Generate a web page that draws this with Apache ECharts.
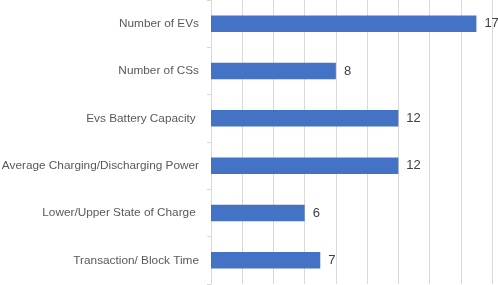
<!DOCTYPE html>
<html>
<head>
<meta charset="utf-8">
<script src="https://cdn.jsdelivr.net/npm/echarts@6/dist/echarts.min.js"></script>
<style>
  html, body { margin: 0; padding: 0; background: #fff; }
  #chart { width: 498px; height: 285px; }
</style>
</head>
<body>
<div id="chart"></div>
<script>
// categories listed bottom to top (category axis runs upward)
const categories = [
  'Transaction/ Block Time',
  'Lower/Upper State of Charge ',
  'Average Charging/Discharging Power',
  'Evs Battery Capacity ',
  'Number of CSs',
  'Number of EVs'
];
const values = [7, 6, 12, 12, 8, 17];

const chart = echarts.init(document.getElementById('chart'));

const option = {
  animation: false,
  grid: {
    left: 211, right: 6, top: 0, bottom: 1,
    containLabel: false,
    outerBoundsMode: 'none'
  },
  xAxis: {
    type: 'value',
    min: 0,
    max: 18,
    interval: 2,
    axisLabel: { show: false },
    axisLine: { show: false },
    axisTick: { show: false },
    splitLine: { lineStyle: { color: '#d9d9d9', width: 1 } }
  },
  yAxis: {
    type: 'category',
    data: categories,
    axisLine: { lineStyle: { color: '#d9d9d9' } },
    axisTick: { show: true, length: 4, lineStyle: { color: '#d9d9d9' } },
    axisLabel: {
      color: '#595959',
      fontFamily: 'Liberation Sans',
      fontSize: 11.8,
      margin: 12
    }
  },
  series: [
    {
      type: 'bar',
      data: values,
      barWidth: 16.5,
      itemStyle: { color: '#4472c4' },
      label: {
        show: true,
        position: 'right',
        distance: 8,
        color: '#404040',
        fontFamily: 'Liberation Sans',
        fontSize: 13
      }
    }
  ]
};

chart.setOption(option);
</script>
</body>
</html>
